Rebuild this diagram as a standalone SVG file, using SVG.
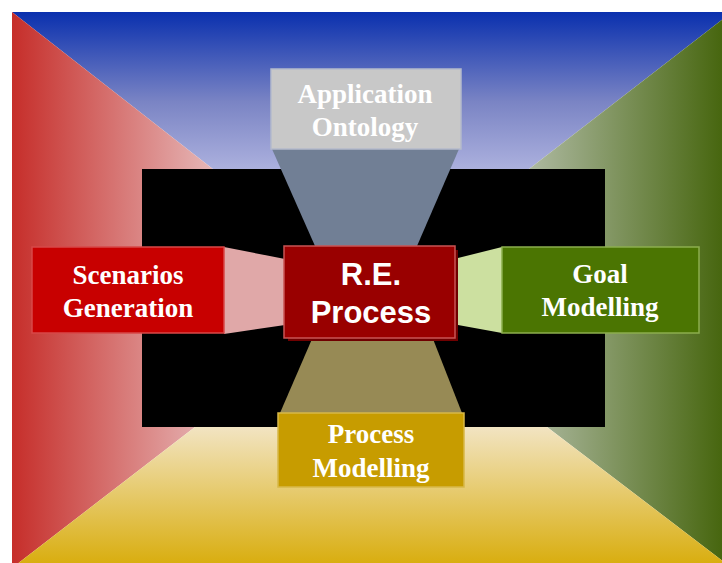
<svg xmlns="http://www.w3.org/2000/svg" width="722" height="563" viewBox="0 0 722 563">
  <defs>
    <linearGradient id="gTop" gradientUnits="userSpaceOnUse" x1="0" y1="12" x2="0" y2="175">
      <stop offset="0" stop-color="#0a30ae"/>
      <stop offset="0.55" stop-color="#7a84c4"/>
      <stop offset="1" stop-color="#b0b4e0"/>
    </linearGradient>
    <linearGradient id="gLeft" gradientUnits="userSpaceOnUse" x1="12" y1="0" x2="215" y2="0">
      <stop offset="0" stop-color="#c62e2a"/>
      <stop offset="1" stop-color="#e6b8b8"/>
    </linearGradient>
    <linearGradient id="gRight" gradientUnits="userSpaceOnUse" x1="722" y1="0" x2="525" y2="0">
      <stop offset="0" stop-color="#47660f"/>
      <stop offset="1" stop-color="#b0bba4"/>
    </linearGradient>
    <linearGradient id="gBottom" gradientUnits="userSpaceOnUse" x1="0" y1="563" x2="0" y2="427">
      <stop offset="0" stop-color="#d9ae10"/>
      <stop offset="1" stop-color="#f2e4c2"/>
    </linearGradient>
    <style>
      .lbl { font-family: "Liberation Serif", "Times New Roman", serif; font-weight: bold; font-size: 27px; fill: #ffffff; text-anchor: middle; }
      .core { font-family: "Liberation Sans", Arial, sans-serif; font-weight: bold; font-size: 31px; fill: #ffffff; text-anchor: middle; }
    </style>
  </defs>

  <!-- perspective room: four walls converging on the vanishing point -->
  <g id="room">
    <polygon points="12,12 732,12 370,292" fill="url(#gTop)"/>
    <polygon points="12,12 12,568 370,292" fill="url(#gLeft)"/>
    <polygon points="732,12 732,568 370,292" fill="url(#gRight)"/>
    <polygon points="12,568 732,568 370,292" fill="url(#gBottom)"/>
    <rect x="142" y="169" width="463" height="258" fill="#000000"/>
  </g>

  <!-- connectors: beams from each activity to the central process -->
  <g id="connectors">
    <polygon points="272,149 459,149 417,246 315,246" fill="#717f95"/>
    <polygon points="224,247 285,259 285,325 224,334" fill="#e0a8a8"/>
    <polygon points="502,247 458,258 458,325 502,333" fill="#cce0a0"/>
    <polygon points="312,339 433,339 462,413 280,413" fill="#978a55"/>
  </g>

  <g id="application-ontology">
    <rect x="271" y="69" width="190" height="80" fill="#c8c8c8" stroke="#b4bacb" stroke-width="1.5"/>
    <text class="lbl" x="365" y="103" fill="#f4f4f4">Application</text>
    <text class="lbl" x="365" y="136" fill="#f4f4f4">Ontology</text>
  </g>

  <g id="scenarios-generation">
    <rect x="32" y="247" width="192" height="86" fill="#c80000" stroke="#d84848" stroke-width="1.5"/>
    <text class="lbl" x="128" y="284">Scenarios</text>
    <text class="lbl" x="128" y="317">Generation</text>
  </g>

  <g id="goal-modelling">
    <rect x="502" y="247" width="197" height="86" fill="#4b7502" stroke="#8cae4e" stroke-width="1.5"/>
    <text class="lbl" x="600" y="283">Goal</text>
    <text class="lbl" x="600" y="316">Modelling</text>
  </g>

  <g id="process-modelling">
    <rect x="278" y="413" width="186" height="74" fill="#c79c00" stroke="#d8b848" stroke-width="1.5"/>
    <text class="lbl" x="371" y="443">Process</text>
    <text class="lbl" x="371" y="477">Modelling</text>
  </g>

  <g id="re-process">
    <rect x="288" y="250" width="170" height="91" fill="#700000"/>
    <rect x="284" y="246" width="171" height="92" fill="#990000" stroke="#c85454" stroke-width="1.5"/>
    <text class="core" x="371" y="285">R.E.</text>
    <text class="core" x="371" y="323">Process</text>
  </g>
</svg>
